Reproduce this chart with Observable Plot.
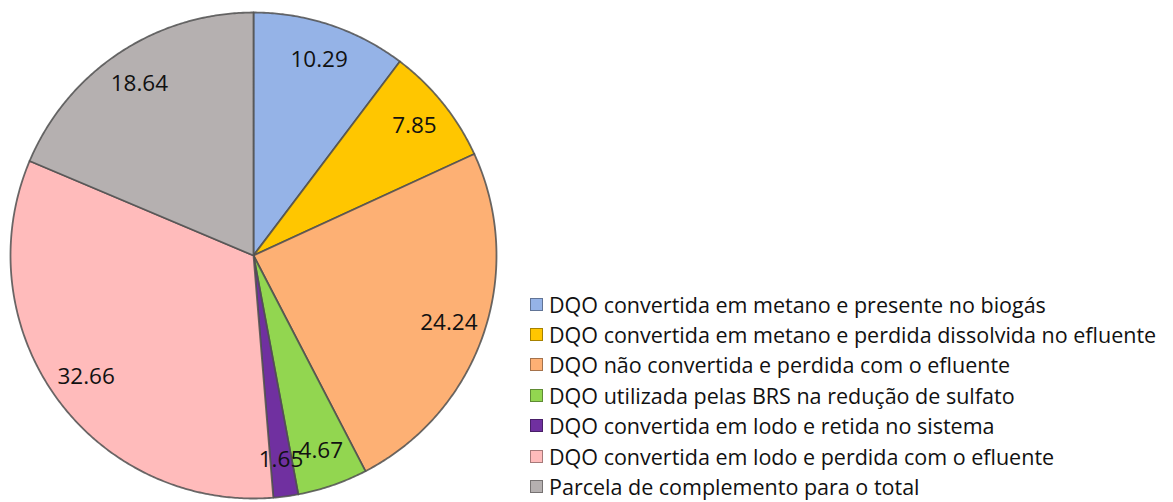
<!DOCTYPE html>
<html>
<head>
<meta charset="utf-8">
<script src="https://cdn.jsdelivr.net/npm/d3@7"></script>
<script src="https://cdn.jsdelivr.net/npm/@observablehq/plot@0.6"></script>
<style>
  body { margin: 0; background: #fff; }
  #wrap { position: relative; width: 1173px; height: 502px; font-family: "Open Sans", sans-serif; }
  #legend { position: absolute; left: 530px; top: 289px; }
  .row { display: flex; align-items: center; height: 30.4px; font-size: 21.5px; color: #111; white-space: nowrap; }
  .sw { width: 13px; height: 13px; margin-right: 6px; box-sizing: border-box; border: 1px solid rgba(0,0,0,0.35); }
</style>
</head>
<body>
<div id="wrap"><div id="legend"></div></div>
<script>
const categories = [
  "DQO convertida em metano e presente no biogás",
  "DQO convertida em metano e perdida dissolvida no efluente",
  "DQO não convertida e perdida com o efluente",
  "DQO utilizada pelas BRS na redução de sulfato",
  "DQO convertida em lodo e retida no sistema",
  "DQO convertida em lodo e perdida com o efluente",
  "Parcela de complemento para o total"
];
const values = [10.29, 7.85, 24.24, 4.67, 1.65, 32.66, 18.64];
const colors = ["#95B3E7", "#FFC600", "#FDB074", "#92D650", "#7030A0", "#FFBBBB", "#B5B0B0"];

const total = d3.sum(values);
const pts = [];
const labels = [];
let acc = 0;
values.forEach((v, i) => {
  const a0 = acc / total * 2 * Math.PI;
  acc += v;
  const a1 = acc / total * 2 * Math.PI;
  const n = Math.max(2, Math.ceil((a1 - a0) / (Math.PI / 360)));
  pts.push({cat: categories[i], x: 0, y: 0});
  for (let k = 0; k <= n; k++) {
    const a = a0 + (a1 - a0) * k / n;
    pts.push({cat: categories[i], x: Math.sin(a), y: Math.cos(a)});
  }
  const am = (a0 + a1) / 2;
  labels.push({text: values[i].toFixed(2), x: 0.85 * Math.sin(am), y: 0.85 * Math.cos(am)});
});

const chart = Plot.plot({
  width: 520,
  height: 502,
  margin: 0,
  x: {domain: [-1, 1], range: [10, 496], axis: null},
  y: {domain: [-1, 1], range: [498, 12], axis: null},
  color: {domain: categories, range: colors},
  marks: [
    Plot.line(pts, {x: "x", y: "y", z: "cat", fill: "cat", stroke: "#505050", strokeWidth: 1.8, strokeOpacity: 0.85, curve: "linear-closed"}),
    Plot.text(labels, {x: "x", y: "y", text: "text", fontSize: 22.5, fill: "#111", fontFamily: "Open Sans"})
  ]
});
chart.style.position = "absolute";
chart.style.left = "0";
chart.style.top = "0";
document.getElementById("wrap").appendChild(chart);

const legend = document.getElementById("legend");
categories.forEach((c, i) => {
  const row = document.createElement("div");
  row.className = "row";
  const sw = document.createElement("span");
  sw.className = "sw";
  sw.style.background = colors[i];
  const t = document.createElement("span");
  t.textContent = c;
  row.appendChild(sw);
  row.appendChild(t);
  legend.appendChild(row);
});
</script>
</body>
</html>
